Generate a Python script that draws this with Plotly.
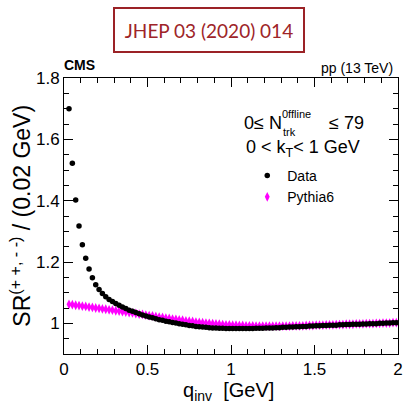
import numpy as np
import plotly.graph_objects as go

# Bin centres of q_inv (0.02 GeV bins)
q_inv = [round(0.03 + 0.02 * i, 2) for i in range(99)]

# Same-sign ratio, data
sr_data = [
    1.700, 1.522, 1.402, 1.317, 1.256, 1.212, 1.177, 1.149, 1.126, 1.110,
    1.097, 1.087, 1.078, 1.071, 1.065, 1.059, 1.053, 1.048, 1.043, 1.039,
    1.035, 1.031, 1.027, 1.024, 1.021, 1.018, 1.015, 1.012, 1.010, 1.007,
    1.005, 1.003, 1.001, 0.999, 0.997, 0.995, 0.993, 0.992, 0.990, 0.989,
    0.988, 0.987, 0.986, 0.985, 0.985, 0.984, 0.984, 0.983, 0.983, 0.983,
    0.983, 0.983, 0.983, 0.983, 0.983, 0.983, 0.984, 0.984, 0.984, 0.985,
    0.985, 0.985, 0.986, 0.986, 0.987, 0.987, 0.988, 0.988, 0.989, 0.989,
    0.990, 0.990, 0.991, 0.991, 0.992, 0.992, 0.993, 0.993, 0.994, 0.994,
    0.994, 0.995, 0.995, 0.996, 0.996, 0.997, 0.997, 0.997, 0.998, 0.998,
    0.999, 0.999, 0.999, 1.000, 1.000, 1.001, 1.001, 1.002, 1.002,
]

# Same-sign ratio, Pythia6
sr_pythia = [
    1.062, 1.061, 1.059, 1.058, 1.056, 1.055, 1.053, 1.052, 1.050, 1.049,
    1.047, 1.046, 1.044, 1.043, 1.041, 1.040, 1.038, 1.037, 1.035, 1.034,
    1.032, 1.030, 1.029, 1.027, 1.025, 1.024, 1.022, 1.020, 1.019, 1.017,
    1.016, 1.014, 1.013, 1.011, 1.010, 1.008, 1.007, 1.006, 1.004, 1.003,
    1.002, 1.001, 1.000, 0.999, 0.998, 0.997, 0.996, 0.995, 0.995, 0.994,
    0.994, 0.993, 0.993, 0.992, 0.992, 0.992, 0.991, 0.991, 0.991, 0.991,
    0.991, 0.991, 0.991, 0.991, 0.991, 0.991, 0.991, 0.992, 0.992, 0.992,
    0.992, 0.993, 0.993, 0.993, 0.994, 0.994, 0.994, 0.995, 0.995, 0.995,
    0.996, 0.996, 0.996, 0.997, 0.997, 0.997, 0.998, 0.998, 0.998, 0.999,
    0.999, 0.999, 1.000, 1.000, 1.001, 1.001, 1.001, 1.002, 1.002,
]

half_bin = [0.01] * len(q_inv)

W, H = 405, 404
ML, MR, MT, MB = 64, 2, 78, 50
PW, PH = W - ML - MR, H - MT - MB


def px(x):
    return (x - ML) / PW


def py(y):
    return (H - MB - y) / PH


FONT = "Liberation Sans, Arial, Helvetica, sans-serif"
MAGENTA = "#ff00ff"

fig = go.Figure()

fig.add_trace(go.Scatter(
    x=q_inv, y=sr_pythia, mode="markers", name="Pythia6",
    marker=dict(symbol="diamond-tall", size=7, color=MAGENTA, line=dict(width=0)),
    error_x=dict(type="data", array=half_bin, width=0, thickness=1, color=MAGENTA),
    error_y=dict(type="constant", value=0.004, width=0, thickness=1, color=MAGENTA),
))
fig.add_trace(go.Scatter(
    x=q_inv, y=sr_data, mode="markers", name="Data",
    marker=dict(symbol="circle", size=5.5, color="black", line=dict(width=0)),
))

axis_common = dict(
    showline=True, linecolor="black", linewidth=1, mirror="allticks",
    ticks="inside", ticklen=9, tickwidth=1, tickcolor="black",
    showgrid=False, zeroline=False, ticklabeloverflow="allow",
    tickfont=dict(family=FONT, size=17, color="black"),
)

fig.update_xaxes(
    range=[0, 2], dtick=0.5, tick0=0,
    minor=dict(dtick=0.1, ticks="inside", ticklen=5, tickcolor="black", showgrid=False),
    **axis_common,
)
fig.update_yaxes(
    range=[0.9, 1.8], dtick=0.2, tick0=1.0,
    minor=dict(dtick=0.05, ticks="inside", ticklen=5, tickcolor="black", showgrid=False),
    **axis_common,
)

ann = []
# Journal reference box
ann.append(dict(
    x=px(211), y=py(29.5), xref="paper", yref="paper", xanchor="center", yanchor="middle",
    text="JHEP 03 (2020) 014", showarrow=False, width=188, height=42,
    bordercolor="#9b2226", borderwidth=2, borderpad=0,
    font=dict(family="Lato, Carlito, sans-serif", size=19, color="#9e2428"),
))
ann.append(dict(x=px(62), y=py(65), xref="paper", yref="paper", xanchor="left",
                yanchor="middle", text="<b>CMS</b>", showarrow=False,
                font=dict(family=FONT, size=14, color="black")))
ann.append(dict(x=px(400), y=py(68), xref="paper", yref="paper", xanchor="right",
                yanchor="middle", text="pp (13 TeV)", showarrow=False,
                font=dict(family=FONT, size=14, color="black")))
# Multiplicity selection
ann.append(dict(x=px(245), y=py(123), xref="paper", yref="paper", xanchor="left",
                yanchor="middle", text="0≤ N", showarrow=False,
                font=dict(family=FONT, size=18, color="black")))
ann.append(dict(x=px(283), y=py(114), xref="paper", yref="paper", xanchor="left",
                yanchor="middle", text="0ffline", showarrow=False,
                font=dict(family=FONT, size=11, color="black")))
ann.append(dict(x=px(284), y=py(132), xref="paper", yref="paper", xanchor="left",
                yanchor="middle", text="trk", showarrow=False,
                font=dict(family=FONT, size=11, color="black")))
ann.append(dict(x=px(331), y=py(123), xref="paper", yref="paper", xanchor="left",
                yanchor="middle", text="≤ 79", showarrow=False,
                font=dict(family=FONT, size=18, color="black")))
ann.append(dict(x=px(247), y=py(148), xref="paper", yref="paper", xanchor="left",
                yanchor="middle", text="0 < k<sub>T</sub>< 1 GeV", showarrow=False,
                font=dict(family=FONT, size=18, color="black")))
# Axis titles
ann.append(dict(x=px(279), y=py(391), xref="paper", yref="paper", xanchor="right",
                yanchor="middle", text="q<sub>inv</sub>  [GeV]", showarrow=False,
                font=dict(family=FONT, size=20, color="black")))
ann.append(dict(x=px(20), y=py(216), xref="paper", yref="paper", xanchor="center",
                yanchor="middle", textangle=-90, showarrow=False,
                text="SR<sup>(+ +, - -)</sup> / (0.02 GeV)",
                font=dict(family=FONT, size=23, color="black")))

fig.update_layout(
    width=W, height=H,
    margin=dict(l=ML, r=MR, t=MT, b=MB),
    paper_bgcolor="white", plot_bgcolor="white",
    font=dict(family=FONT, color="black"),
    annotations=ann,
    showlegend=True,
    legend=dict(
        x=px(250), y=py(160), xanchor="left", yanchor="top",
        bgcolor="rgba(0,0,0,0)", borderwidth=0,
        font=dict(family=FONT, size=14, color="black"),
        traceorder="reversed", itemwidth=30, tracegroupgap=0,
    ),
)

fig.write_html("out.html")
